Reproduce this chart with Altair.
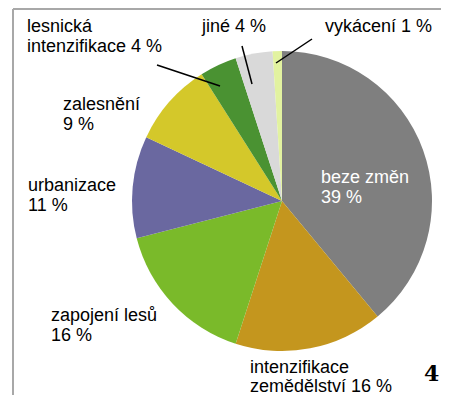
import altair as alt
import pandas as pd

categories = ["beze změn", "intenzifikace zemědělství", "zapojení lesů", "urbanizace",
              "zalesnění", "lesnická intenzifikace", "jiné", "vykácení"]
values = [39, 16, 16, 11, 9, 4, 4, 1]
colors = ["#7f7f7f", "#c4961e", "#7aba2a", "#6a68a0", "#d4c82a", "#4a9232", "#d9d9d9", "#e2f2a0"]

df = pd.DataFrame({"kategorie": categories, "podil": values, "poradi": list(range(len(values)))})

W, H = 433, 387
CX, CY, R = 274, 192, 150
FONT = "Liberation Sans"

pie = alt.Chart(df).mark_arc(radius=R, stroke=None).encode(
    theta=alt.Theta("podil:Q", stack=True),
    order=alt.Order("poradi:Q", sort="ascending"),
    color=alt.Color("kategorie:N", scale=alt.Scale(domain=categories, range=colors), legend=None),
    x=alt.value(CX),
    y=alt.value(CY),
)

def label(text, x, y, color="black", font=FONT, size=18, weight="normal", lh=20):
    return alt.Chart(pd.DataFrame({"t": [text]})).mark_text(
        align="left", baseline="alphabetic", font=font, fontSize=size, lineHeight=lh,
        lineBreak="\n", color=color, fontWeight=weight,
    ).encode(text="t:N", x=alt.value(x), y=alt.value(y))

def line(x1, y1, x2, y2, color="black", width=1.5):
    return alt.Chart(pd.DataFrame({"a": [0]})).mark_rule(color=color, strokeWidth=width).encode(
        x=alt.value(x1), y=alt.value(y1), x2=alt.value(x2), y2=alt.value(y2))

labels = [
    label("lesnická\nintenzifikace 4 %", 19, 23),
    label("jiné 4 %", 194, 23),
    label("vykácení 1 %", 317, 23),
    label("zalesnění\n9 %", 55, 101),
    label("urbanizace\n11 %", 20, 182),
    label("zapojení lesů\n16 %", 43, 312),
    label("intenzifikace\nzemědělství 16 %", 242, 364, lh=19),
    label("beze změn\n39 %", 313, 174, color="white"),
    label("4", 416, 372, font="DejaVu Serif", size=22, weight="bold"),
]

leaders = [
    line(149, 56, 212, 77),
    line(234, 37, 244, 75),
    line(304, 30, 268, 54),
]

frame = [
    line(5, 0, 433, 0, color="#a8a8a8", width=2),
    line(5, 0, 5, 387, color="#a8a8a8", width=2),
]

chart = alt.layer(pie, *leaders, *labels, *frame).properties(
    width=W, height=H,
    autosize=alt.AutoSizeParams(type="fit", contains="padding"),
    padding=0,
).configure_view(stroke=None)

chart.save("out.html", embed_options={"renderer": "svg", "actions": False})
